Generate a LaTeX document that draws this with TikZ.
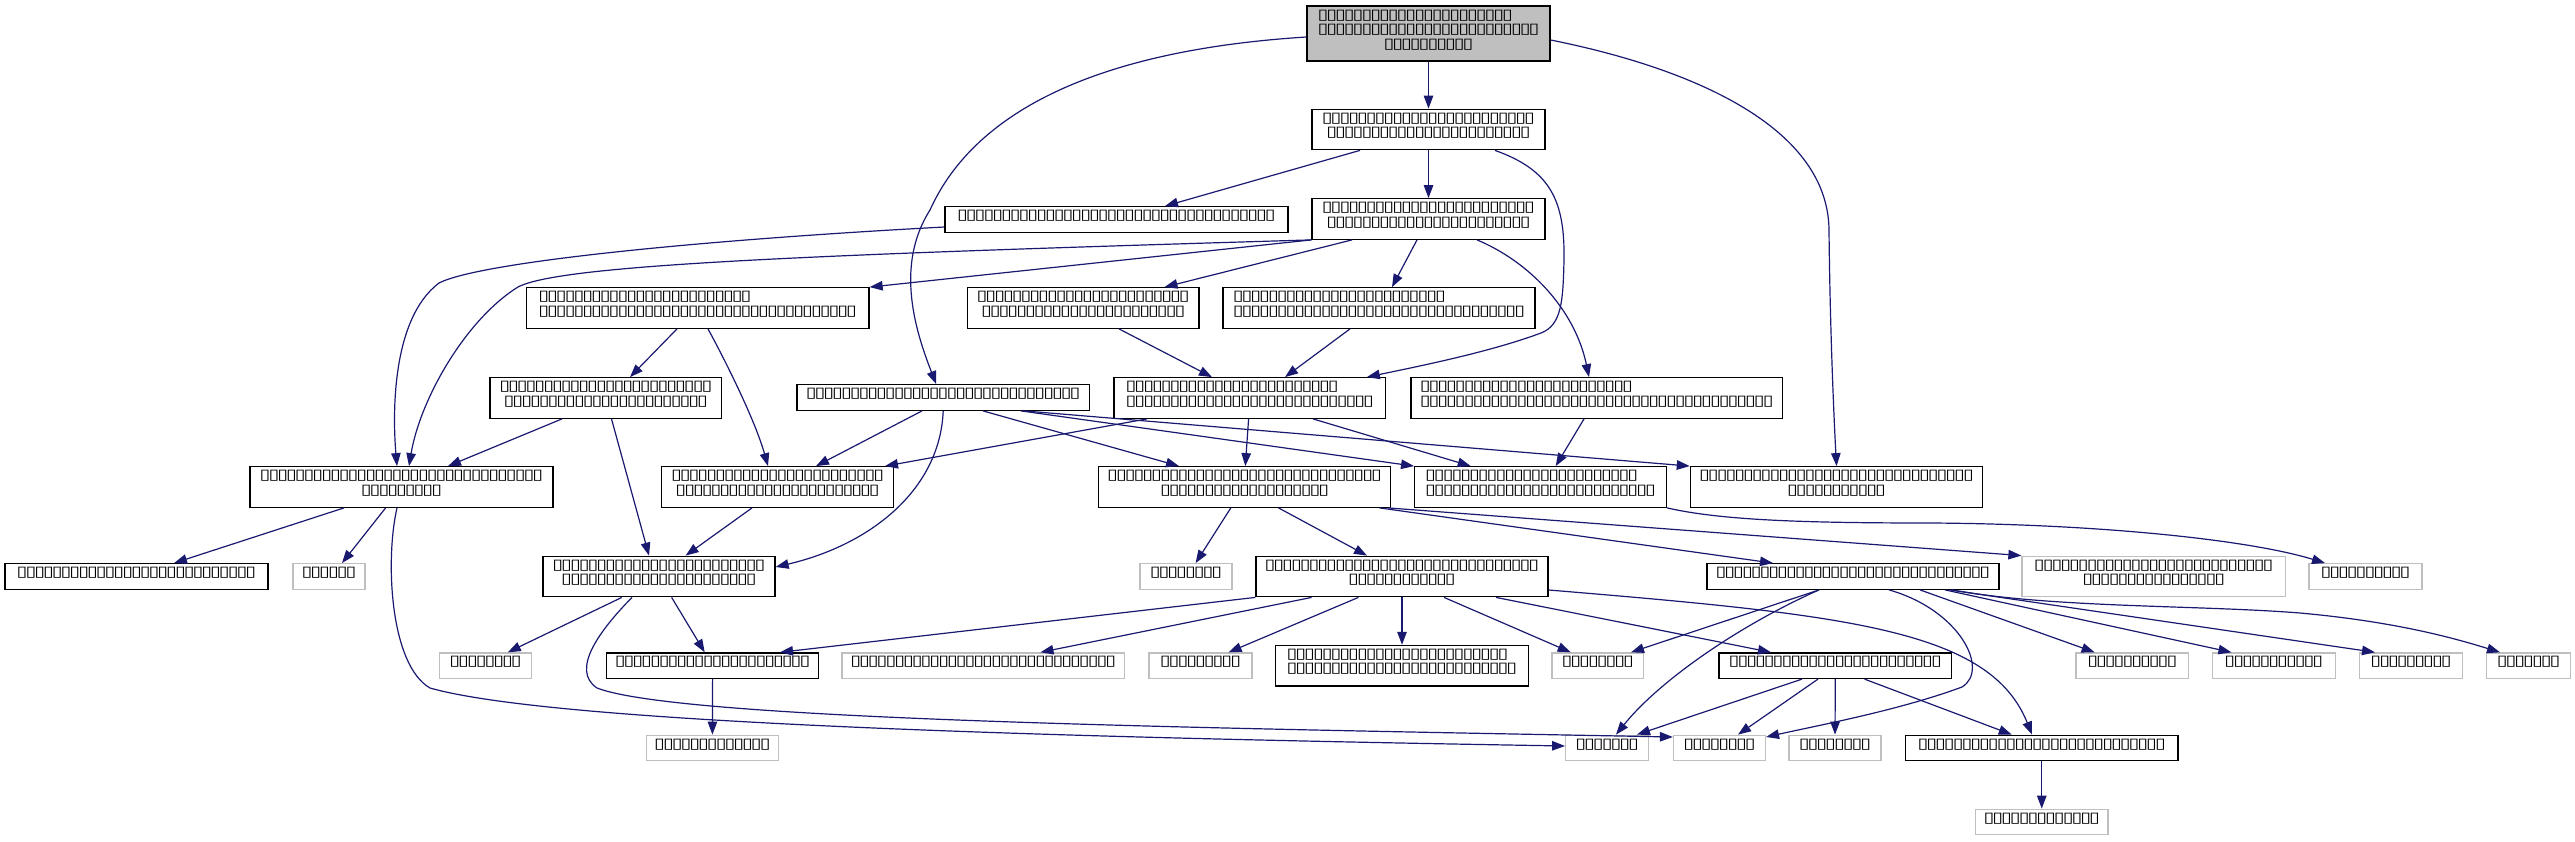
\documentclass[tikz,border=0pt]{standalone}
\usepackage{fontspec}
\newfontfamily\bxfont[FakeStretch=1.35]{DejaVu Sans}
\usetikzlibrary{arrows.meta}
\definecolor{edgeblue}{HTML}{191970}
\definecolor{greyA}{HTML}{BFBFBF}
\ExplSyntaxOn
\cs_new:Npn \BxR #1 { \prg_replicate:nn {#1} { \makebox[8.8pt]{▯} } }
\ExplSyntaxOff
\newcommand\Dp{\rule[-9.3pt]{0pt}{0pt}}
\begin{document}
\begin{tikzpicture}[x=1pt,y=-1pt,
 nd/.style={draw=black,line width=1.3pt,fill=white,inner sep=0pt,align=center,font=\bxfont\fontsize{14.5pt}{14.5pt}\selectfont},
 gnd/.style={nd,draw=greyA},
 lft/.style={align=left},
 hone/.style={minimum height=25.5pt},
 htwo/.style={minimum height=40.5pt},
 conn/.style={draw=edgeblue,line width=1.2pt,-{Triangle[length=13pt,width=9.5pt]}}
]
\useasboundingbox (0,0) rectangle (2575,841);
\node[nd,fill=greyA,minimum width=243pt,minimum height=55pt] (N0) at (1428.5,33.5) {\makebox[0pt][l]{\BxR{22}}\hphantom{\BxR{25}}\\\BxR{25}\\\BxR{10}\Dp};
\node[nd,htwo,minimum width=233pt] (N1) at (1428.5,129.5) {\BxR{24}\\\BxR{23}\Dp};
\node[nd,hone,minimum width=343pt] (N2) at (1116.5,219.5) {\BxR{36}\Dp};
\node[nd,htwo,minimum width=233pt] (N3) at (1428.5,219) {\BxR{24}\\\BxR{23}\Dp};
\node[nd,htwo,lft,minimum width=342.5pt] (N4) at (697.75,308) {\BxR{24}\\\BxR{36}\Dp};
\node[nd,htwo,minimum width=231.5pt] (N5) at (1083.25,308) {\BxR{24}\\\BxR{23}\Dp};
\node[nd,htwo,lft,minimum width=312pt] (N6) at (1379,308) {\BxR{24}\\\BxR{33}\Dp};
\node[nd,hone,minimum width=292.4pt] (N7) at (943.2,397.5) {\BxR{31}\Dp};
\node[nd,htwo,lft,minimum width=271.7pt] (N8) at (1249.85,398) {\BxR{24}\\\BxR{28}\Dp};
\node[nd,htwo,lft,minimum width=371.5pt] (N9) at (1596.75,398) {\BxR{24}\\\BxR{40}\Dp};
\node[nd,htwo,minimum width=231.7pt] (N10) at (605.85,398) {\BxR{24}\\\BxR{23}\Dp};
\node[nd,htwo,minimum width=303pt] (N11) at (401.5,487) {\BxR{32}\\\BxR{9}\Dp};
\node[nd,htwo,minimum width=232.1pt] (N12) at (777.65,487) {\BxR{24}\\\BxR{23}\Dp};
\node[nd,htwo,minimum width=292.2pt] (N13) at (1244.6,487) {\BxR{31}\\\BxR{19}\Dp};
\node[nd,htwo,lft,minimum width=251.7pt] (N14) at (1540.55,487) {\BxR{24}\\\BxR{26}\Dp};
\node[nd,htwo,minimum width=292.3pt] (N15) at (1836.55,487) {\BxR{31}\\\BxR{11}\Dp};
\node[nd,hone,minimum width=263pt] (N16) at (136.5,576.5) {\BxR{27}\Dp};
\node[gnd,hone,minimum width=72pt] (N17) at (329,576.5) {\BxR{6}\Dp};
\node[nd,htwo,minimum width=232pt] (N18) at (659,576.5) {\BxR{24}\\\BxR{22}\Dp};
\node[gnd,hone,minimum width=92pt] (N19) at (1186,576.5) {\BxR{8}\Dp};
\node[nd,htwo,minimum width=292pt] (N20) at (1402,576.5) {\BxR{31}\\\BxR{12}\Dp};
\node[nd,hone,minimum width=292pt] (N21) at (1853,576.5) {\BxR{31}\Dp};
\node[gnd,htwo,minimum width=263.5pt] (N22) at (2153.75,576.5) {\BxR{27}\\\BxR{16}\Dp};
\node[gnd,hone,minimum width=113pt] (N23) at (2365.5,576.5) {\BxR{10}\Dp};
\node[gnd,hone,minimum width=92.4pt] (N24) at (485.6,665.7) {\BxR{8}\Dp};
\node[nd,hone,minimum width=212.2pt] (N25) at (712.6,665.7) {\BxR{22}\Dp};
\node[gnd,hone,minimum width=282.6pt] (N26) at (983.3,665.7) {\BxR{30}\Dp};
\node[gnd,hone,minimum width=103pt] (N27) at (1200.5,665.7) {\BxR{9}\Dp};
\node[nd,htwo,lft,minimum width=253pt] (N28) at (1402,665.7) {\BxR{25}\\\BxR{26}\Dp};
\node[gnd,hone,minimum width=91.6pt] (N29) at (1597.8,665.7) {\BxR{8}\Dp};
\node[nd,hone,minimum width=232.6pt] (N30) at (1835.3,665.7) {\BxR{24}\Dp};
\node[gnd,hone,minimum width=112.6pt] (N31) at (2132.3,665.7) {\BxR{10}\Dp};
\node[gnd,hone,minimum width=122.8pt] (N32) at (2273.8,665.7) {\BxR{11}\Dp};
\node[gnd,hone,minimum width=103.2pt] (N33) at (2411,665.7) {\BxR{9}\Dp};
\node[gnd,hone,minimum width=83.6pt] (N34) at (2528.6,665.7) {\BxR{7}\Dp};
\node[gnd,hone,minimum width=132.2pt] (N35) at (712.4,748) {\BxR{13}\Dp};
\node[gnd,hone,minimum width=82.9pt] (N36) at (1607.15,748) {\BxR{7}\Dp};
\node[gnd,hone,minimum width=91.9pt] (N37) at (1719.45,748) {\BxR{8}\Dp};
\node[gnd,hone,minimum width=92pt] (N38) at (1835,748) {\BxR{8}\Dp};
\node[nd,hone,minimum width=272.5pt] (N39) at (2041.75,748) {\BxR{28}\Dp};
\node[gnd,hone,minimum width=132.3pt] (N40) at (2041.75,822) {\BxR{13}\Dp};
% connectors
\draw[conn] (N0.south) -- (N1.north);
\draw[conn] ([yshift=-3.5pt]N0.west) .. controls (1100,50) and (975,110) .. (930,210) .. controls (895,265) and (915,330) .. ([xshift=-7pt]N7.north);
\draw[conn] ([yshift=-6.5pt]N0.east) .. controls (1700,70) and (1828,130) .. (1829,230) .. controls (1830,330) and (1834,420) .. (N15.north);
\draw[conn] ([xshift=-68.5pt]N1.south) -- ([xshift=48.5pt]N2.north);
\draw[conn] (N1.south) -- (N3.north);
\draw[conn] ([xshift=66.5pt]N1.south) .. controls (1550,170) and (1565,200) .. (1564,260) .. controls (1563,300) and (1562,325) .. (1541,333) .. controls (1490,352) and (1420,366) .. ([xshift=117pt]N8.north);
\draw[conn] ([yshift=-7.5pt]N2.west) .. controls (700,240) and (480,262) .. (439,283) .. controls (390,320) and (393,420) .. ([xshift=-4.5pt]N11.north);
\draw[conn] (N3.south west) .. controls (800,255) and (560,265) .. (518,287) .. controls (465,320) and (420,400) .. ([xshift=7.5pt]N11.north);
\draw[conn] (N3.south west) -- (N4.north east);
\draw[conn] ([xshift=-76.5pt]N3.south) -- ([xshift=81.25pt]N5.north);
\draw[conn] ([xshift=-11.5pt]N3.south) -- ([xshift=13pt]N6.north);
\draw[conn] ([xshift=48.5pt]N3.south) .. controls (1530,262) and (1575,310) .. ([xshift=-7.75pt]N9.north);
\draw[conn] ([xshift=-20.75pt]N4.south) -- ([xshift=24.15pt]N10.north);
\draw[conn] ([xshift=10.25pt]N4.south) .. controls (725,360) and (755,420) .. ([xshift=-9.65pt]N12.north);
\draw[conn] ([xshift=35.75pt]N5.south) -- ([xshift=-37.85pt]N8.north);
\draw[conn] ([xshift=-29pt]N6.south) -- ([xshift=35.15pt]N8.north);
\draw[conn] ([xshift=-21.2pt]N7.south) -- ([xshift=38.35pt]N12.north);
\draw[conn] ([xshift=39.8pt]N7.south) -- ([xshift=-65.6pt]N13.north);
\draw[conn] ([xshift=77.8pt]N7.south) -- (N14.north west);
\draw[conn] ([xshift=80.8pt]N7.south) -- (N15.north west);
\draw[conn] (N7.south) .. controls (940,490) and (870,545) .. ([yshift=9.5pt]N18.east);
\draw[conn] ([xshift=-102.85pt]N8.south) -- ([xshift=107.35pt]N12.north);
\draw[conn] ([xshift=-1.25pt]N8.south) -- ([xshift=0.7pt]N13.north);
\draw[conn] ([xshift=63.15pt]N8.south) -- ([xshift=-69.85pt]N14.north);
\draw[conn] ([xshift=-12.75pt]N9.south) -- ([xshift=15.15pt]N14.north);
\draw[conn] ([xshift=-43.85pt]N10.south) -- ([xshift=46.5pt]N11.north);
\draw[conn] ([xshift=5.65pt]N10.south) -- ([xshift=-10pt]N18.north);
\draw[conn] ([xshift=-57.5pt]N11.south) -- ([xshift=37.5pt]N16.north);
\draw[conn] ([xshift=-15.9pt]N11.south) -- ([xshift=13pt]N17.north);
\draw[conn] ([xshift=-4.5pt]N11.south) .. controls (385,560) and (390,665) .. (430,688) .. controls (560,725) and (1100,738) .. ([yshift=2pt]N36.west);
\draw[conn] ([xshift=-25.65pt]N12.south) -- ([xshift=26.6pt]N18.north);
\draw[conn] ([xshift=-27pt]N18.south) .. controls (600,630) and (570,670) .. (597,688) .. controls (680,720) and (1200,728) .. ([yshift=11pt]N37.west);
\draw[conn] ([xshift=-13.8pt]N13.south) -- ([xshift=9.6pt]N19.north);
\draw[conn] ([xshift=33.9pt]N13.south) -- ([xshift=-35pt]N20.north);
\draw[conn] ([xshift=134.9pt]N13.south) -- ([xshift=-80pt]N21.north);
\draw[conn] ([xshift=143.4pt]N13.south) -- (N22.north west);
\draw[conn] (N14.south east) .. controls (1720,520) and (1800,523) .. (1930,523) .. controls (2100,524) and (2250,540) .. ([xshift=-40.5pt]N23.north);
\draw[conn] ([xshift=-37.2pt]N18.south) -- ([xshift=22.2pt]N24.north);
\draw[conn] ([xshift=12.6pt]N18.south) -- ([xshift=-7.9pt]N25.north);
\draw[conn] (N25.south) -- (N35.north);
\draw[conn] (N20.south west) -- ([xshift=67.4pt]N25.north);
\draw[conn] ([xshift=-90.4pt]N20.south) -- ([xshift=57.2pt]N26.north);
\draw[conn] ([xshift=-43.6pt]N20.south) -- ([xshift=28.1pt]N27.north);
\draw[conn] (N20.south) -- (N28.north);
\draw[conn] ([xshift=42pt]N20.south) -- ([xshift=-27.1pt]N29.north);
\draw[conn] ([xshift=94pt]N20.south) -- ([xshift=-64.3pt]N30.north);
\draw[conn] ([yshift=-13.5pt]N20.east) .. controls (1850,615) and (1990,630) .. ([xshift=-9.75pt]N39.north);
\draw[conn] ([xshift=-34pt]N21.south) -- ([xshift=33.2pt]N29.north);
\draw[conn] ([xshift=-34pt]N21.south) .. controls (1740,625) and (1660,680) .. ([xshift=8.85pt]N36.north);
\draw[conn] ([xshift=36pt]N21.south) .. controls (1960,610) and (1990,670) .. (1962,687) .. controls (1900,710) and (1820,725) .. ([yshift=11pt]N37.east);
\draw[conn] ([xshift=67pt]N21.south) -- ([xshift=-37.7pt]N31.north);
\draw[conn] ([xshift=92pt]N21.south) -- ([xshift=-42.4pt]N32.north);
\draw[conn] ([xshift=96.5pt]N21.south) -- ([xshift=-36pt]N33.north);
\draw[conn] ([xshift=99pt]N21.south) .. controls (2050,608) and (2200,605) .. (2300,613) .. controls (2400,622) and (2460,640) .. ([xshift=-28.6pt]N34.north);
\draw[conn] ([xshift=-33.3pt]N30.south) -- ([xshift=29.85pt]N36.north);
\draw[conn] ([xshift=-17.3pt]N30.south) -- ([xshift=18.55pt]N37.north);
\draw[conn] (N30.south) -- (N38.north);
\draw[conn] ([xshift=29.2pt]N30.south) -- ([xshift=-30pt]N39.north);
\draw[conn] (N39.south) -- (N40.north);
\end{tikzpicture}
\end{document}
